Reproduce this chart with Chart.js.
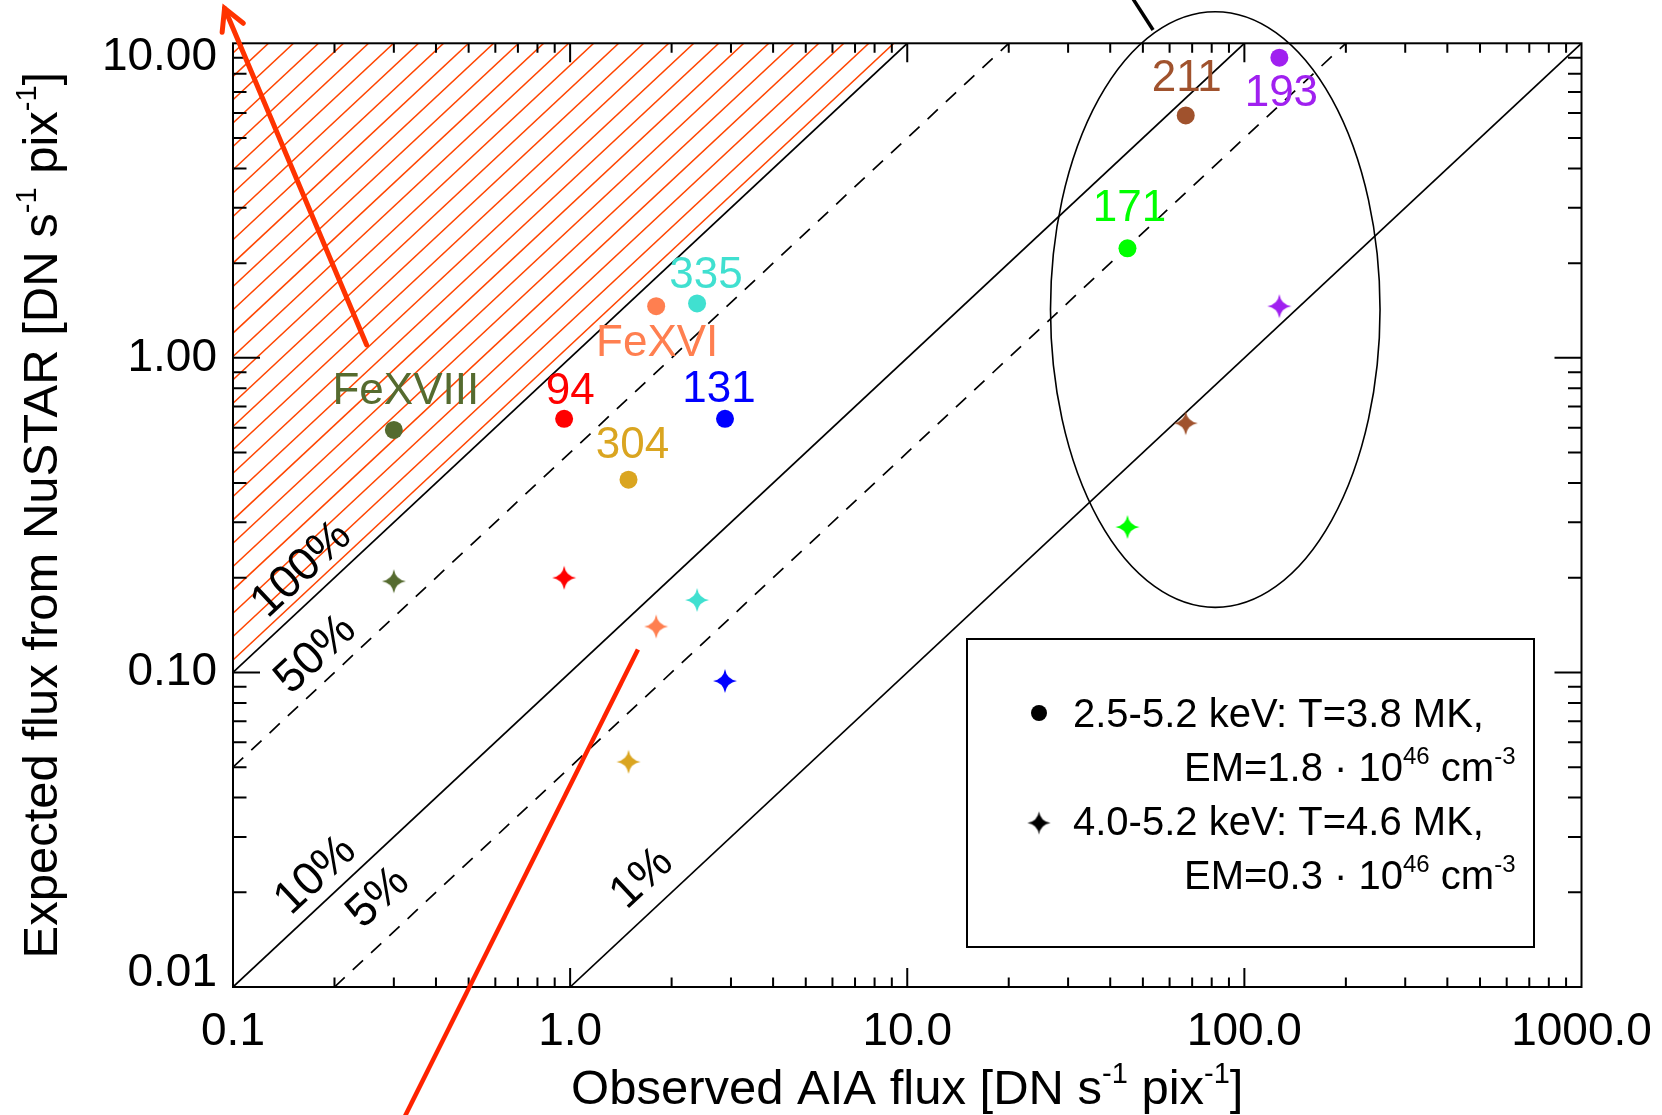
<!DOCTYPE html>
<html><head><meta charset="utf-8">
<script src="https://cdn.jsdelivr.net/npm/chart.js@4.4.1/dist/chart.umd.min.js"></script>
<style>html,body{margin:0;padding:0;background:#fff;}#wrap{width:1662px;height:1115px;position:relative;}</style>
</head><body><div id="wrap"><canvas id="c" width="1662" height="1115"></canvas></div>
<script>
// ---------------- data ----------------
const channels   = ['FeXVIII','94','304','FeXVI','335','131','171','211','193'];
const aiaFlux    = [0.30, 0.96, 1.49, 1.80, 2.38, 2.88, 45, 67, 127];          // observed AIA flux
const nustarLow  = [0.59, 0.64, 0.41, 1.46, 1.49, 0.64, 2.23, 5.9, 9.0];       // 2.5-5.2 keV (circles)
const nustarHigh = [0.195, 0.20, 0.052, 0.14, 0.17, 0.094, 0.29, 0.62, 1.46];  // 4.0-5.2 keV (stars)
const channelColors = ['#556B2F','#FF0000','#DAA520','#FF7F50','#40E0D0','#0000FF','#00FF00','#A0522D','#A020F0'];
const ratioLines  = [1, 0.5, 0.1, 0.05, 0.01];
const ratioLabels = ['100%','50%','10%','5%','1%'];
const ratioDashed = [false, true, false, true, false];
const xTickValues = [0.1, 1, 10, 100, 1000];
const xTickLabels = ['0.1','1.0','10.0','100.0','1000.0'];
const yTickValues = [0.01, 0.1, 1, 10];
const yTickLabels = ['0.01','0.10','1.00','10.00'];
const legendLines = [
  [{t:'2.5-5.2 keV: T=3.8 MK,'}],
  [{t:'EM=1.8 \u00B7 10'},{t:'46',sup:true},{t:' cm'},{t:'-3',sup:true}],
  [{t:'4.0-5.2 keV: T=4.6 MK,'}],
  [{t:'EM=0.3 \u00B7 10'},{t:'46',sup:true},{t:' cm'},{t:'-3',sup:true}]
];
const xTitle = [{t:'Observed AIA flux [DN s'},{t:'-1',sup:true},{t:' pix'},{t:'-1',sup:true},{t:']'}];
const yTitle = [{t:'Expected flux from NuSTAR [DN s'},{t:'-1',sup:true},{t:' pix'},{t:'-1',sup:true},{t:']'}];

// ---------------- layout / style ----------------
const FONT = 'Liberation Sans, Arial, Helvetica, sans-serif';
const labelOffsets = [[12,-38],[6,-27],[4,-34],[1,38],[9,-28],[-6,-29],[2,-39],[1,-37],[2,36]];
const ratioLabelPos = [[0.160,0.212],[0.176,0.1138],[0.176,0.0226],[0.270,0.0192],[1.636,0.0221]];
const hatchStart = 1.969, hatchStep = 0.0742, hatchCount = 27;
const ellipseBox = {x1:26.6, x2:252.6, y1:0.161, y2:12.6};
const arrow1 = {from:[0.249,1.10], to:[0.0944,12.92]};
const redLine = {from:[1.589,0.1183], to:[0.300,0.0033]};
const blackLine = {from:[44.9,14.8], to:[53.6,11.02]};

function makeStar(color, R){
  const s = Math.ceil(2*R+2); const cv=document.createElement('canvas'); cv.width=s; cv.height=s;
  const g=cv.getContext('2d'); const c=s/2; const a=0.14*R;
  g.fillStyle=color; g.beginPath();
  g.moveTo(c, c-R);
  g.quadraticCurveTo(c+a, c-a, c+R, c);
  g.quadraticCurveTo(c+a, c+a, c, c+R);
  g.quadraticCurveTo(c-a, c+a, c-R, c);
  g.quadraticCurveTo(c-a, c-a, c, c-R);
  g.closePath(); g.fill(); return cv;
}
const starImgs = channelColors.map(c=>makeStar(c, 12));
const legendStar = makeStar('#000', 11.5);

function richWidth(ctx, parts, size){
  let w=0; for(const p of parts){ ctx.font = (p.sup? Math.round(size*0.6): size)+'px '+FONT; w+=ctx.measureText(p.t).width; } return w;
}
function drawRich(ctx, parts, x, y, size){ // left aligned, alphabetic baseline
  let cx=x; ctx.textBaseline='alphabetic'; ctx.textAlign='left';
  for(const p of parts){
    const fs = p.sup? Math.round(size*0.6): size;
    ctx.font = fs+'px '+FONT;
    ctx.fillText(p.t, cx, p.sup? y - size*0.42 : y);
    cx += ctx.measureText(p.t).width;
  }
}

// ---------------- datasets ----------------
const datasets = [];
datasets.push({ label:'2.5-5.2 keV', data: aiaFlux.map((x,i)=>({x, y:nustarLow[i]})),
  pointStyle:'circle', pointRadius:9, pointBackgroundColor:channelColors, pointBorderColor:channelColors, pointBorderWidth:0, showLine:false });
datasets.push({ label:'4.0-5.2 keV', data: aiaFlux.map((x,i)=>({x, y:nustarHigh[i]})),
  pointStyle:starImgs, pointRadius:12, showLine:false });
ratioLines.forEach((k,i)=>{
  const x1 = Math.max(0.1, 0.01/k), x2 = Math.min(1000, 10/k);
  datasets.push({ label:ratioLabels[i], data:[{x:x1,y:k*x1},{x:x2,y:k*x2}], showLine:true, pointRadius:0,
    borderColor:'#000', borderWidth:1.7, borderDash: ratioDashed[i]?[14,11]:[], fill:false });
});

// ---------------- overlay plugin ----------------
const overlay = {
  id:'overlay',
  beforeDatasetsDraw(chart){
    const xs=chart.scales.x, ys=chart.scales.y, ctx=chart.ctx;
    const P=(x,y)=>[xs.getPixelForValue(x), ys.getPixelForValue(y)];
    ctx.save();
    ctx.beginPath();
    let p=P(0.1,0.1); ctx.moveTo(p[0],p[1]);
    p=P(10,10); ctx.lineTo(p[0],p[1]);
    p=P(0.1,10); ctx.lineTo(p[0],p[1]);
    ctx.closePath(); ctx.clip();
    ctx.strokeStyle='#FF4500'; ctx.lineWidth=1.5;
    for(let k=0;k<hatchCount;k++){
      const c=Math.pow(10, hatchStart-k*hatchStep);
      const a=P(0.001, c*0.001), b=P(100, c*100);
      ctx.beginPath(); ctx.moveTo(a[0],a[1]); ctx.lineTo(b[0],b[1]); ctx.stroke();
    }
    ctx.restore();
  },
  afterDatasetsDraw(chart){
    const xs=chart.scales.x, ys=chart.scales.y, ctx=chart.ctx, A=chart.chartArea;
    ctx.save();
    ctx.strokeStyle='#000'; ctx.lineWidth=2;
    ctx.strokeRect(A.left, A.top, A.right-A.left, A.bottom-A.top);
    ctx.beginPath();
    for(let e=-1;e<3;e++){ for(let m=1;m<=9;m++){ const v=m*Math.pow(10,e); const px=xs.getPixelForValue(v); const L=(m===1)?19:9.5;
      ctx.moveTo(px,A.bottom); ctx.lineTo(px,A.bottom-L); ctx.moveTo(px,A.top); ctx.lineTo(px,A.top+L);} }
    for(let e=-2;e<1;e++){ for(let m=1;m<=9;m++){ const v=m*Math.pow(10,e); const py=ys.getPixelForValue(v); const L=(m===1)?27:13.5;
      ctx.moveTo(A.left,py); ctx.lineTo(A.left+L,py); ctx.moveTo(A.right,py); ctx.lineTo(A.right-L,py);} }
    ctx.stroke();
    ctx.restore();
  },
  afterDraw(chart){
    const xs=chart.scales.x, ys=chart.scales.y, ctx=chart.ctx, A=chart.chartArea;
    const P=(x,y)=>[xs.getPixelForValue(x), ys.getPixelForValue(y)];
    ctx.save();
    ctx.font='44px '+FONT; ctx.textAlign='center'; ctx.textBaseline='middle';
    channels.forEach((name,i)=>{
      const p=P(aiaFlux[i], nustarLow[i]);
      ctx.fillStyle=channelColors[i];
      ctx.fillText(name, p[0]+labelOffsets[i][0], p[1]+labelOffsets[i][1]);
    });
    const ang = -Math.atan2(ys.getPixelForValue(0.1)-ys.getPixelForValue(1), xs.getPixelForValue(1)-xs.getPixelForValue(0.1));
    ctx.fillStyle='#000'; ctx.font='46px '+FONT;
    ratioLabels.forEach((t,i)=>{
      const p=P(ratioLabelPos[i][0], ratioLabelPos[i][1]);
      ctx.save(); ctx.translate(p[0],p[1]); ctx.rotate(ang); ctx.fillText(t,0,0); ctx.restore();
    });
    const e1=P(ellipseBox.x1, ellipseBox.y2), e2=P(ellipseBox.x2, ellipseBox.y1);
    ctx.beginPath(); ctx.strokeStyle='#000'; ctx.lineWidth=1.6;
    ctx.ellipse((e1[0]+e2[0])/2,(e1[1]+e2[1])/2,(e2[0]-e1[0])/2,(e2[1]-e1[1])/2,0,0,Math.PI*2); ctx.stroke();
    let a=P(...blackLine.from), b=P(...blackLine.to);
    ctx.beginPath(); ctx.lineWidth=3.5; ctx.moveTo(a[0],a[1]); ctx.lineTo(b[0],b[1]); ctx.stroke();
    const L={x:967,y:639,w:567,h:308};
    ctx.lineWidth=2; ctx.strokeRect(L.x,L.y,L.w,L.h);
    ctx.fillStyle='#000';
    ctx.beginPath(); ctx.arc(L.x+72, L.y+74, 8, 0, Math.PI*2); ctx.fill();
    ctx.drawImage(legendStar, L.x+72-legendStar.width/2, L.y+184-legendStar.height/2);
    drawRich(ctx, legendLines[0], L.x+106, L.y+88, 40);
    drawRich(ctx, legendLines[1], L.x+217, L.y+142, 40);
    drawRich(ctx, legendLines[2], L.x+106, L.y+196, 40);
    drawRich(ctx, legendLines[3], L.x+217, L.y+250, 40);
    ctx.fillStyle='#000';
    const tw = richWidth(ctx, xTitle, 49);
    drawRich(ctx, xTitle, (A.left+A.right)/2 - tw/2, 1104, 49);
    const tw2 = richWidth(ctx, yTitle, 49);
    ctx.save(); ctx.translate(57, (A.top+A.bottom)/2); ctx.rotate(-Math.PI/2);
    drawRich(ctx, yTitle, -tw2/2, 0, 49); ctx.restore();
    ctx.strokeStyle='#FF3300'; ctx.lineWidth=5; ctx.lineCap='round';
    a=P(...arrow1.from); b=P(...arrow1.to);
    ctx.beginPath(); ctx.moveTo(a[0],a[1]); ctx.lineTo(b[0],b[1]); ctx.stroke();
    const th=Math.atan2(b[1]-a[1], b[0]-a[0]);
    ctx.beginPath();
    ctx.moveTo(b[0]-24*Math.cos(th-0.5), b[1]-24*Math.sin(th-0.5)); ctx.lineTo(b[0],b[1]);
    ctx.lineTo(b[0]-24*Math.cos(th+0.5), b[1]-24*Math.sin(th+0.5)); ctx.stroke();
    a=P(...redLine.from); b=P(...redLine.to);
    ctx.strokeStyle='#FF2200'; ctx.lineWidth=4.5; ctx.lineCap='butt';
    ctx.beginPath(); ctx.moveTo(a[0],a[1]); ctx.lineTo(b[0],b[1]); ctx.stroke();
    ctx.restore();
  }
};

const yFont = (c)=>{ const i=c.index; const edge=(i===0||i===yTickValues.length-1); return {family:FONT, size:46, lineHeight: edge? 28/46 : 1.2}; };
const noPad = s=>{ s.paddingLeft=0; s.paddingRight=0; s.paddingTop=0; s.paddingBottom=0; };

new Chart(document.getElementById('c'), {
  type:'scatter',
  data:{ datasets },
  options:{
    responsive:false, animation:false, devicePixelRatio:1,
    layout:{ padding:{ top:43.3, right:80.5, left:0, bottom:0 } },
    plugins:{ legend:{display:false}, tooltip:{enabled:false} },
    scales:{
      x:{ type:'logarithmic', min:0.1, max:1000, position:'bottom',
          grid:{display:false, drawTicks:false}, border:{display:false},
          afterBuildTicks:s=>{ s.ticks = xTickValues.map(v=>({value:v})); },
          ticks:{ autoSkip:false, maxRotation:0, minRotation:0, padding:18, color:'#000',
                  font:{family:FONT, size:46}, callback:(v,i)=>xTickLabels[i] },
          afterFit:s=>{ s.height = 128; noPad(s); } },
      y:{ type:'logarithmic', min:0.01, max:10, position:'left',
          grid:{display:false, drawTicks:false}, border:{display:false},
          afterBuildTicks:s=>{ s.ticks = yTickValues.map(v=>({value:v})); },
          ticks:{ autoSkip:false, padding:16, color:'#000', font:yFont,
                  callback:(v,i)=>{ const t=yTickLabels[i]; if(i===yTickValues.length-1) return ['',t]; if(i===0) return [t,'']; return t; } },
          afterFit:s=>{ s.width = 233; noPad(s); } }
    }
  },
  plugins:[overlay]
});
</script></body></html>
